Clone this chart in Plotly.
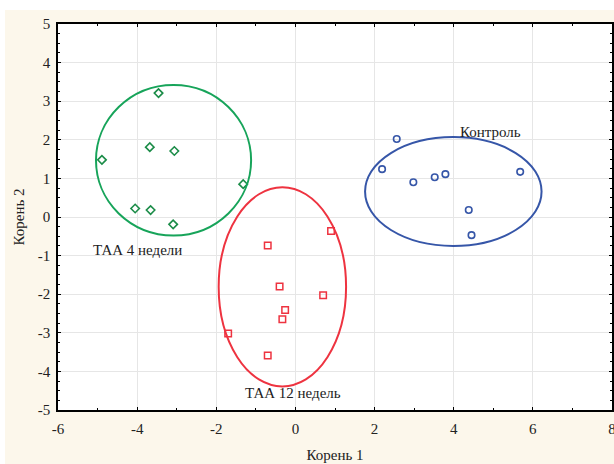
import plotly.graph_objects as go

# Data
taa4_x = [-3.46, -3.68, -3.06, -4.89, -1.32, -4.05, -3.66, -3.09]
taa4_y = [3.21, 1.81, 1.71, 1.48, 0.85, 0.22, 0.18, -0.19]

taa12_x = [0.90, -0.70, -0.40, 0.70, -0.26, -0.33, -1.70, -0.70]
taa12_y = [-0.36, -0.74, -1.80, -2.03, -2.41, -2.65, -3.02, -3.59]

ctrl_x = [2.56, 2.19, 2.98, 3.52, 3.79, 5.68, 4.38, 4.45]
ctrl_y = [2.02, 1.24, 0.90, 1.03, 1.11, 1.17, 0.18, -0.47]

# ellipses: center x, center y, radius x, radius y
ell_taa4 = (-3.08, 1.47, 1.96, 1.95)
ell_taa12 = (-0.33, -1.81, 1.61, 2.58)
ell_ctrl = (3.99, 0.66, 2.23, 1.41)

labels = ["ТАА 4 недели", "ТАА 12 недель", "Контроль"]
label_x = [-3.99, -0.07, 4.94]
label_y = [-0.86, -4.57, 2.21]

x_ticks = [-6, -4, -2, 0, 2, 4, 6, 8]
y_ticks = [-5, -4, -3, -2, -1, 0, 1, 2, 3, 4, 5]

GREEN = "#17A45A"
RED = "#EE3340"
BLUE = "#3656A8"
FONT = "Times New Roman, Liberation Serif, DejaVu Serif, serif"

fig = go.Figure()
fig.add_trace(go.Scatter(x=taa4_x, y=taa4_y, mode="markers",
                         marker=dict(symbol="diamond-open", size=6.5, color="#1B8C48",
                                     line=dict(width=1.6, color="#1B8C48")),
                         showlegend=False))
fig.add_trace(go.Scatter(x=taa12_x, y=taa12_y, mode="markers",
                         marker=dict(symbol="square-open", size=6.5, color=RED,
                                     line=dict(width=1.5, color=RED)),
                         showlegend=False))
fig.add_trace(go.Scatter(x=ctrl_x, y=ctrl_y, mode="markers",
                         marker=dict(symbol="circle-open", size=6.5, color=BLUE,
                                     line=dict(width=1.6, color=BLUE)),
                         showlegend=False))

for (cx, cy, rx, ry), col in [(ell_taa4, GREEN), (ell_taa12, RED), (ell_ctrl, BLUE)]:
    fig.add_shape(type="circle", xref="x", yref="y",
                  x0=cx - rx, x1=cx + rx, y0=cy - ry, y1=cy + ry,
                  line=dict(color=col, width=2))

for t, lx, ly in zip(labels, label_x, label_y):
    fig.add_annotation(x=lx, y=ly, text=t, showarrow=False,
                       font=dict(family=FONT, size=15, color="#222222"))

# white strips around the cream background
fig.add_shape(type="rect", xref="paper", yref="paper", x0=-0.2, x1=1.1,
              y0=1.036, y1=1.2, fillcolor="white", line=dict(width=0), layer="below")
fig.add_shape(type="rect", xref="paper", yref="paper", x0=-0.2, x1=-0.0957,
              y0=-0.3, y1=1.2, fillcolor="white", line=dict(width=0), layer="below")

axis_common = dict(showline=True, linecolor="black", linewidth=1.5, mirror="ticks",
                   ticks="inside", ticklen=3, tickcolor="black", tickwidth=1,
                   showgrid=True, gridcolor="#E6E6E6", gridwidth=1, zeroline=False,
                   ticklabeloverflow="allow",
                   tickfont=dict(family=FONT, size=15, color="#222222"))

fig.update_xaxes(range=[-6, 8], tickvals=x_ticks, ticktext=[str(v) for v in x_ticks],
                 minor=dict(dtick=1, ticks="inside", ticklen=2, tickcolor="black", showgrid=False),
                 title=dict(text="Корень 1", font=dict(family=FONT, size=15, color="#222222"),
                            standoff=14),
                 ticklabelstandoff=4, **axis_common)
fig.update_yaxes(range=[-5, 5], tickvals=y_ticks, ticktext=[str(v) for v in y_ticks],
                 minor=dict(dtick=0.25, ticks="inside", ticklen=2, tickcolor="black", showgrid=False),
                 title=dict(text="Корень 2", font=dict(family=FONT, size=15, color="#222222"),
                            standoff=10),
                 ticklabelstandoff=3, **axis_common)

fig.update_layout(width=614, height=464,
                  margin=dict(l=58, r=2, t=24, b=54, autoexpand=False),
                  paper_bgcolor="#FCF7EB", plot_bgcolor="white",
                  font=dict(family=FONT),
                  showlegend=False)

fig.write_html("out.html", config={"displayModeBar": False},
               post_script="document.body.style.margin='0';")
